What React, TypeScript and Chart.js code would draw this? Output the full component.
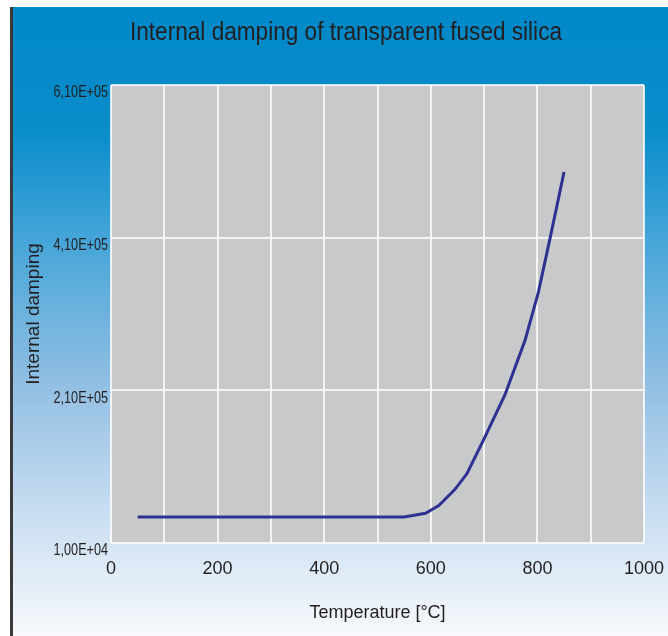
import { useEffect, useRef } from 'react';
import { Chart, registerables } from 'chart.js';

Chart.register(...registerables);

const chartTitle = 'Internal damping of transparent fused silica';
const xAxisTitle = 'Temperature [°C]';
const yAxisTitle = 'Internal damping';

const temperatures = [50, 550, 590, 615, 645, 668, 699, 739, 777, 802, 824, 850];
const damping = [44000, 44000, 49000, 59000, 80000, 101000, 145000, 204000, 276000, 339000, 410000, 496000];

const xTicks = [0, 100, 200, 300, 400, 500, 600, 700, 800, 900, 1000];
const xLabelTicks = [0, 200, 400, 600, 800, 1000];
const yTicks = [10000, 210000, 410000, 610000];

function fmtSci(v: number): string {
  const [m, e] = v.toExponential(2).split('e');
  const sign = e[0];
  const digits = e.slice(1).padStart(2, '0');
  return m.replace('.', ',') + 'E' + sign + digits;
}

const INK = '#231f20';

const decor = {
  id: 'decor',
  beforeDraw(chart: any) {
    const { ctx, chartArea } = chart;
    const { left, top, right, bottom } = chartArea;
    ctx.save();
    ctx.fillStyle = '#c8c9cb';
    ctx.fillRect(left, top, right - left, bottom - top);
    ctx.restore();
  },
  afterDraw(chart: any) {
    const ctx = chart.ctx;
    ctx.save();
    ctx.fillStyle = INK;
    ctx.font = '25px "Liberation Sans", Arial, sans-serif';
    ctx.textAlign = 'center';
    ctx.textBaseline = 'alphabetic';
    const w = ctx.measureText(chartTitle).width;
    ctx.translate(346, 40);
    ctx.scale(432 / w, 1);
    ctx.fillText(chartTitle, 0, 0);
    ctx.restore();

    const ys = chart.scales.y;
    ctx.save();
    ctx.font = '16px "Liberation Sans", Arial, sans-serif';
    ctx.fillStyle = INK;
    ctx.textAlign = 'right';
    ctx.textBaseline = 'middle';
    yTicks.forEach((v) => {
      const py = ys.getPixelForValue(v);
      ctx.save();
      ctx.translate(ys.right - 3, py + 8);
      ctx.scale(0.79, 1);
      ctx.fillText(fmtSci(v), 0, 0);
      ctx.restore();
    });
    ctx.restore();
  },
};

export default function App() {
  const canvasRef = useRef<HTMLCanvasElement | null>(null);

  useEffect(() => {
    const canvas = canvasRef.current;
    if (!canvas) return;
    const chart = new Chart(canvas, {
      type: 'line',
      data: {
        datasets: [
          {
            data: temperatures.map((t, i) => ({ x: t, y: damping[i] })),
            borderColor: '#2e3192',
            borderWidth: 3,
            pointRadius: 0,
            tension: 0,
            fill: false,
          },
        ],
      },
      options: {
        animation: false,
        responsive: false,
        maintainAspectRatio: false,
        layout: { padding: { top: 85, right: 24, bottom: 0, left: 0 } },
        plugins: {
          legend: { display: false },
          title: { display: false },
          tooltip: { enabled: false },
        },
        scales: {
          x: {
            type: 'linear',
            min: 0,
            max: 1000,
            afterBuildTicks: (scale: any) => {
              scale.ticks = xTicks.map((v) => ({ value: v }));
            },
            afterFit: (scale: any) => {
              scale.height = 93;
              scale.paddingLeft = 0;
              scale.paddingRight = 0;
            },
            grid: {
              color: 'rgba(255,255,255,0.8)',
              lineWidth: 2,
              drawTicks: false,
            },
            border: { display: false },
            ticks: {
              autoSkip: false,
              maxRotation: 0,
              padding: 15,
              color: INK,
              font: { family: '"Liberation Sans", Arial, sans-serif', size: 18 },
              callback: (v: any) => (xLabelTicks.includes(Number(v)) ? String(v) : ''),
            },
            title: {
              display: true,
              text: xAxisTitle,
              color: INK,
              font: { family: '"Liberation Sans", Arial, sans-serif', size: 18 },
              padding: { top: 0, bottom: 12 },
            },
          },
          y: {
            type: 'linear',
            min: 10000,
            max: 610000,
            afterBuildTicks: (scale: any) => {
              scale.ticks = yTicks.map((v) => ({ value: v }));
            },
            afterFit: (scale: any) => {
              scale.width = 111;
              scale.paddingTop = 0;
              scale.paddingBottom = 0;
            },
            grid: {
              color: 'rgba(255,255,255,0.8)',
              lineWidth: 2,
              drawTicks: false,
            },
            border: { display: false },
            ticks: { display: false },
            title: {
              display: true,
              text: yAxisTitle,
              color: INK,
              font: { family: '"Liberation Sans", Arial, sans-serif', size: 19 },
              padding: { top: 22, bottom: 0 },
            },
          },
        },
      },
      plugins: [decor],
    } as any);
    return () => chart.destroy();
  }, []);

  return (
    <div style={{ position: 'fixed', left: 0, top: 0, width: 668, height: 636, background: '#ffffff', overflow: 'hidden' }}>
      <div
        style={{
          position: 'absolute',
          left: 10,
          top: 7,
          right: 0,
          bottom: 0,
          borderLeft: '3px solid #3a3a3a',
          background:
            'linear-gradient(to bottom, #0088c8 0%, #0a8dcb 20%, #45a5d8 37%, #92bfe3 60%, #c8ddf1 80%, #f7f9fc 100%)',
        }}
      />
      <canvas
        ref={canvasRef}
        width={668}
        height={636}
        style={{ position: 'absolute', left: 0, top: 0, width: 668, height: 636 }}
      />
    </div>
  );
}
